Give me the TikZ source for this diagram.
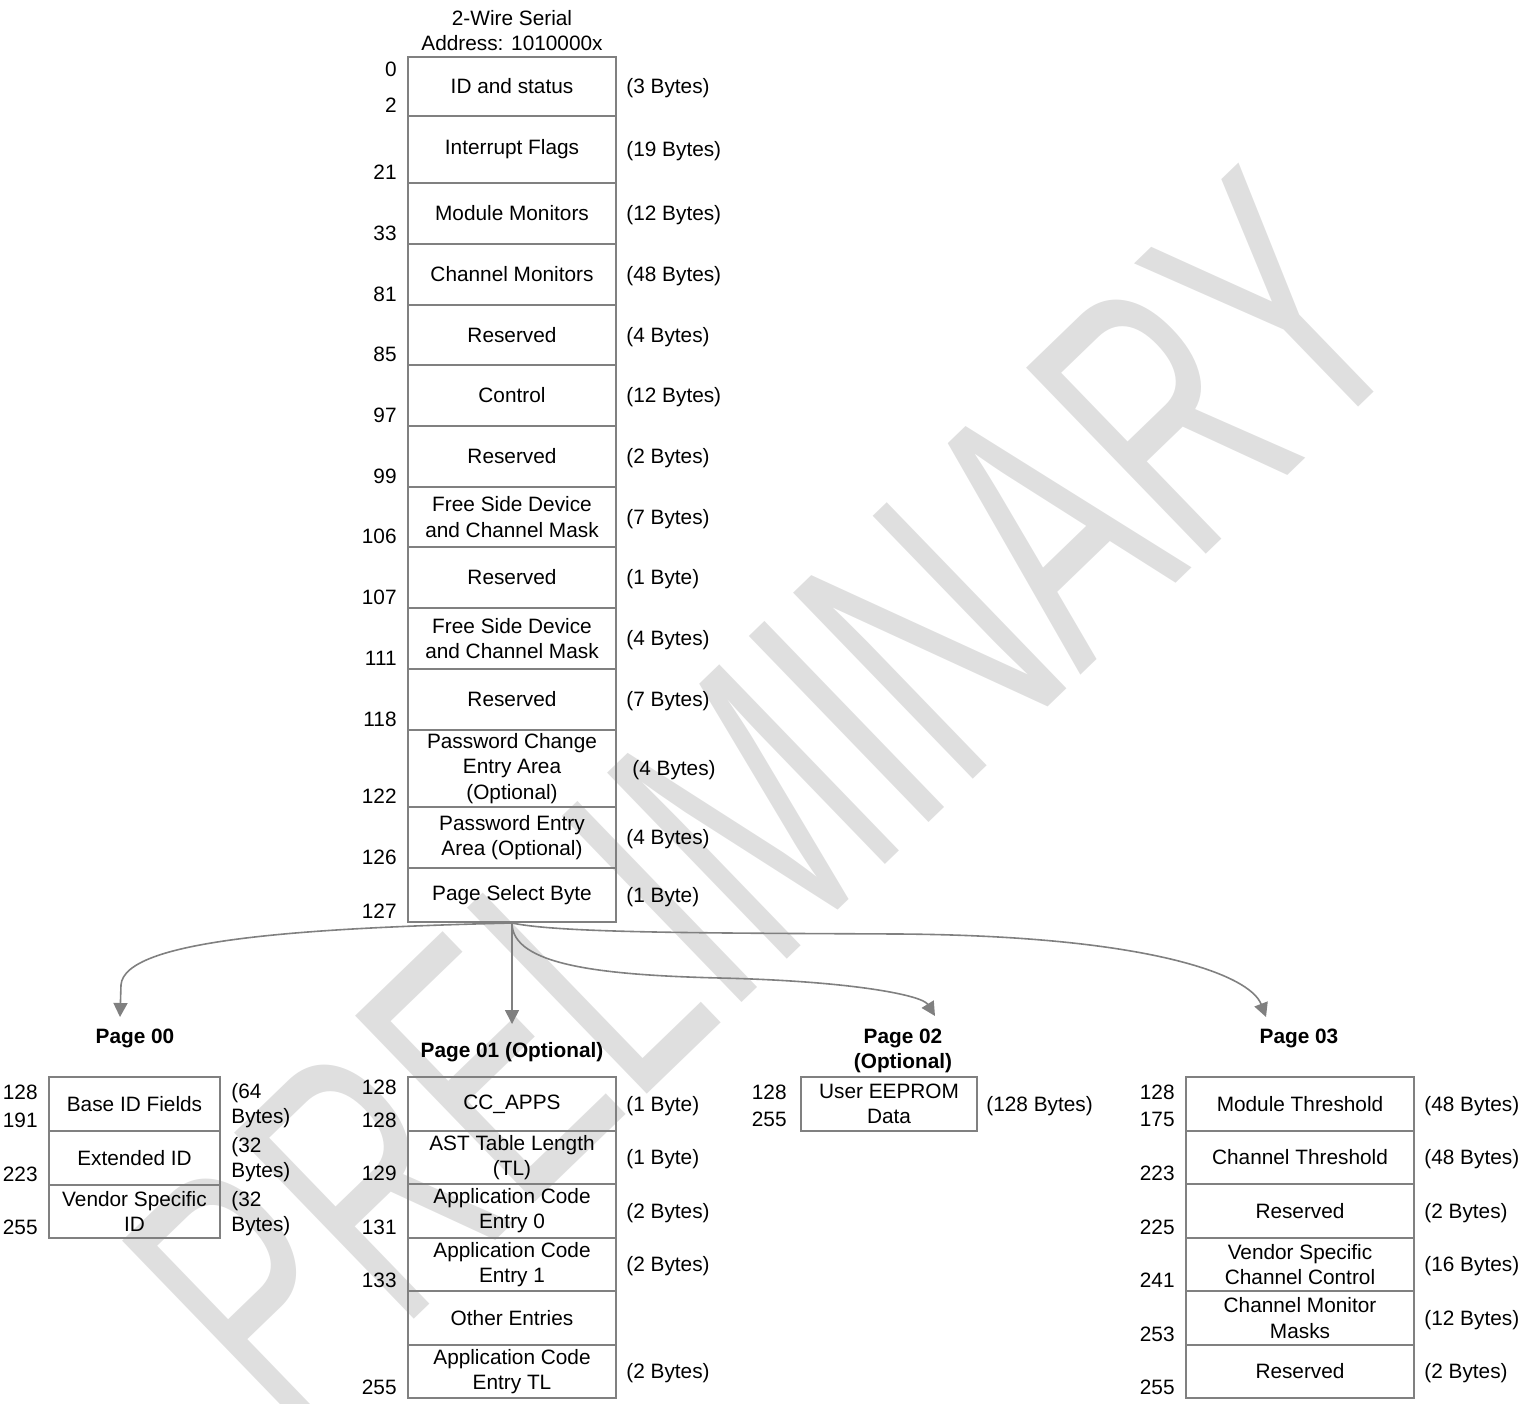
\documentclass[tikz,border=0pt]{standalone}
\usepackage{fontspec}
\setmainfont{Liberation Sans}
\usetikzlibrary{arrows.meta}

\definecolor{framegray}{RGB}{128,128,128}
\definecolor{markgray}{RGB}{223,223,223}

\tikzset{
  cell/.style={draw=framegray, line width=1pt, inner sep=0pt, align=center},
  addr/.style={anchor=base east, inner sep=0pt},
  bytes/.style={anchor=west, inner sep=0pt, align=left, yshift=-1pt},
  pagetitle/.style={inner sep=0pt, align=center, font=\bfseries},
  pagelink/.style={draw=framegray, line width=0.8pt, -{Triangle[length=7pt,width=7pt]}},
}

\begin{document}
\fontsize{10.4}{12.6}\selectfont
\begin{tikzpicture}[x=0.5pt, y=-0.5pt]
        \useasboundingbox (0,0) rectangle (1535,1403);

        % watermark
        \node[rotate=44, xscale=0.62, text=markgray, inner sep=0pt,
              font=\fontsize{188}{188}\selectfont] (wm) at (766,800) {PRELIMINARY};

        \node[inner sep=0pt, align=center] (serial) at (512,30.5) {2-Wire Serial\\Address: 1010000x};

        % lower memory
        \begin{scope}[every node/.style={cell, minimum width=104pt}]
          \node[minimum height=29.5pt] (m1)  at (512,86.5)  {ID and status};
          \node[minimum height=33.5pt] (m2)  at (512,149.5) {Interrupt Flags};
          \node[minimum height=30.5pt] (m3)  at (512,213.5) {Module Monitors};
          \node[minimum height=30.5pt] (m4)  at (512,274.5) {Channel Monitors};
          \node[minimum height=30pt]   (m5)  at (512,335)   {Reserved};
          \node[minimum height=30.5pt] (m6)  at (512,395.5) {Control};
          \node[minimum height=30.5pt] (m7)  at (512,456.5) {Reserved};
          \node[minimum height=30pt]   (m8)  at (512,517)   {Free Side Device\\and Channel Mask};
          \node[minimum height=30.5pt] (m9)  at (512,577.5) {Reserved};
          \node[minimum height=30.5pt] (m10) at (512,638.5) {Free Side Device\\and Channel Mask};
          \node[minimum height=30.5pt] (m11) at (512,699.5) {Reserved};
          \node[minimum height=38.5pt] (m12) at (512,768.5) {Password Change\\Entry Area\\(Optional)};
          \node[minimum height=30.5pt] (m13) at (512,837.5) {Password Entry\\Area (Optional)};
          \node[minimum height=27pt]   (m14) at (512,895)   {Page Select Byte};
        \end{scope}

        \begin{scope}[every node/.style={addr}]
          \node (mn0)   at ([xshift=-5pt,yshift=-10pt]m1.north west) {0};
          \node (mn2)   at ([xshift=-5pt,yshift=2.5pt]m1.south west) {2};
          \node (mn21)  at ([xshift=-5pt,yshift=2.5pt]m2.south west) {21};
          \node (mn33)  at ([xshift=-5pt,yshift=2.5pt]m3.south west) {33};
          \node (mn81)  at ([xshift=-5pt,yshift=2.5pt]m4.south west) {81};
          \node (mn85)  at ([xshift=-5pt,yshift=2.5pt]m5.south west) {85};
          \node (mn97)  at ([xshift=-5pt,yshift=2.5pt]m6.south west) {97};
          \node (mn99)  at ([xshift=-5pt,yshift=2.5pt]m7.south west) {99};
          \node (mn106) at ([xshift=-5pt,yshift=2.5pt]m8.south west) {106};
          \node (mn107) at ([xshift=-5pt,yshift=2.5pt]m9.south west) {107};
          \node (mn111) at ([xshift=-5pt,yshift=2.5pt]m10.south west) {111};
          \node (mn118) at ([xshift=-5pt,yshift=2.5pt]m11.south west) {118};
          \node (mn122) at ([xshift=-5pt,yshift=2.5pt]m12.south west) {122};
          \node (mn126) at ([xshift=-5pt,yshift=2.5pt]m13.south west) {126};
          \node (mn127) at ([xshift=-5pt,yshift=2.5pt]m14.south west) {127};
        \end{scope}

        \begin{scope}[every node/.style={bytes}]
          \node (ms1)  at ([xshift=4.5pt]m1.east)  {(3 Bytes)};
          \node (ms2)  at ([xshift=4.5pt]m2.east)  {(19 Bytes)};
          \node (ms3)  at ([xshift=4.5pt]m3.east)  {(12 Bytes)};
          \node (ms4)  at ([xshift=4.5pt]m4.east)  {(48 Bytes)};
          \node (ms5)  at ([xshift=4.5pt]m5.east)  {(4 Bytes)};
          \node (ms6)  at ([xshift=4.5pt]m6.east)  {(12 Bytes)};
          \node (ms7)  at ([xshift=4.5pt]m7.east)  {(2 Bytes)};
          \node (ms8)  at ([xshift=4.5pt]m8.east)  {(7 Bytes)};
          \node (ms9)  at ([xshift=4.5pt]m9.east)  {(1 Byte)};
          \node (ms10) at ([xshift=4.5pt]m10.east) {(4 Bytes)};
          \node (ms11) at ([xshift=4.5pt]m11.east) {(7 Bytes)};
          \node (ms12) at ([xshift=7.5pt]m12.east) {(4 Bytes)};
          \node (ms13) at ([xshift=4.5pt]m13.east) {(4 Bytes)};
          \node (ms14) at ([xshift=4.5pt]m14.east) {(1 Byte)};
        \end{scope}

        % page titles
        \node[pagetitle] (p00) at (135,1038)  {Page 00};
        \node[pagetitle] (p01) at (512,1052)  {Page 01 (Optional)};
        \node[pagetitle] (p02) at (903,1051)  {Page 02\\(Optional)};
        \node[pagetitle] (p03) at (1299,1038) {Page 03};

        % page 00
        \begin{scope}[every node/.style={cell, minimum width=85.5pt}]
          \node[minimum height=27pt]   (a1) at (134.5,1104)  {Base ID Fields};
          \node[minimum height=27pt]   (a2) at (134.5,1158)  {Extended ID};
          \node[minimum height=26.5pt] (a3) at (134.5,1211.5) {Vendor Specific\\ID};
        \end{scope}
        \node[addr] (an128) at ([xshift=-5pt,yshift=-11.5pt]a1.north west) {128};
        \node[addr] (an191) at ([xshift=-5pt,yshift=2.5pt]a1.south west) {191};
        \node[addr] (an223) at ([xshift=-5pt,yshift=2.5pt]a2.south west) {223};
        \node[addr] (an255) at ([xshift=-5pt,yshift=2.5pt]a3.south west) {255};
        \node[bytes] (as1) at ([xshift=5pt]a1.east) {(64\\Bytes)};
        \node[bytes] (as2) at ([xshift=5pt]a2.east) {(32\\Bytes)};
        \node[bytes] (as3) at ([xshift=5pt]a3.east) {(32\\Bytes)};

        % page 01
        \begin{scope}[every node/.style={cell, minimum width=104pt}]
          \node[minimum height=27pt]   (b1) at (512,1104)   {CC\_APPS};
          \node[minimum height=26.5pt] (b2) at (512,1157.5) {AST Table Length\\(TL)};
          \node[minimum height=27pt]   (b3) at (512,1211)   {Application Code\\Entry 0};
          \node[minimum height=26.5pt] (b4) at (512,1264.5) {Application Code\\Entry 1};
          \node[minimum height=27pt]   (b5) at (512,1318)   {Other Entries};
          \node[minimum height=26.5pt] (b6) at (512,1371.5) {Application Code\\Entry TL};
        \end{scope}
        \node[addr] (bn128a) at ([xshift=-5pt,yshift=-9pt]b1.north west) {128};
        \node[addr] (bn128b) at ([xshift=-5pt,yshift=2.5pt]b1.south west) {128};
        \node[addr] (bn129)  at ([xshift=-5pt,yshift=2.5pt]b2.south west) {129};
        \node[addr] (bn131)  at ([xshift=-5pt,yshift=2.5pt]b3.south west) {131};
        \node[addr] (bn133)  at ([xshift=-5pt,yshift=2.5pt]b4.south west) {133};
        \node[addr] (bn255)  at ([xshift=-5pt,yshift=2.5pt]b6.south west) {255};
        \node[bytes] (bs1) at ([xshift=4.5pt]b1.east) {(1 Byte)};
        \node[bytes] (bs2) at ([xshift=4.5pt]b2.east) {(1 Byte)};
        \node[bytes] (bs3) at ([xshift=4.5pt]b3.east) {(2 Bytes)};
        \node[bytes] (bs4) at ([xshift=4.5pt]b4.east) {(2 Bytes)};
        \node[bytes] (bs6) at ([xshift=4.5pt]b6.east) {(2 Bytes)};

        % page 02
        \node[cell, minimum width=88pt, minimum height=27pt] (c1) at (889,1104) {User EEPROM\\Data};
        \node[addr] (cn128) at ([xshift=-6.5pt,yshift=-11.5pt]c1.north west) {128};
        \node[addr] (cn255) at ([xshift=-6.5pt,yshift=3pt]c1.south west) {255};
        \node[bytes] (cs1) at ([xshift=4pt]c1.east) {(128 Bytes)};

        % page 03
        \begin{scope}[every node/.style={cell, minimum width=114pt}]
          \node[minimum height=27pt]   (d1) at (1300,1104)   {Module Threshold};
          \node[minimum height=26.5pt] (d2) at (1300,1157.5) {Channel Threshold};
          \node[minimum height=27pt]   (d3) at (1300,1211)   {Reserved};
          \node[minimum height=26.5pt] (d4) at (1300,1264.5) {Vendor Specific\\Channel Control};
          \node[minimum height=27pt]   (d5) at (1300,1318)   {Channel Monitor\\Masks};
          \node[minimum height=26.5pt] (d6) at (1300,1371.5) {Reserved};
        \end{scope}
        \node[addr] (dn128) at ([xshift=-5pt,yshift=-11.5pt]d1.north west) {128};
        \node[addr] (dn175) at ([xshift=-5pt,yshift=3pt]d1.south west) {175};
        \node[addr] (dn223) at ([xshift=-5pt,yshift=2.5pt]d2.south west) {223};
        \node[addr] (dn225) at ([xshift=-5pt,yshift=2.5pt]d3.south west) {225};
        \node[addr] (dn241) at ([xshift=-5pt,yshift=2.5pt]d4.south west) {241};
        \node[addr] (dn253) at ([xshift=-5pt,yshift=2.5pt]d5.south west) {253};
        \node[addr] (dn255) at ([xshift=-5pt,yshift=2.5pt]d6.south west) {255};
        \node[bytes] (ds1) at ([xshift=4.5pt]d1.east) {(48 Bytes)};
        \node[bytes] (ds2) at ([xshift=4.5pt]d2.east) {(48 Bytes)};
        \node[bytes] (ds3) at ([xshift=4.5pt]d3.east) {(2 Bytes)};
        \node[bytes] (ds4) at ([xshift=4.5pt]d4.east) {(16 Bytes)};
        \node[bytes] (ds5) at ([xshift=4.5pt]d5.east) {(12 Bytes)};
        \node[bytes] (ds6) at ([xshift=4.5pt]d6.east) {(2 Bytes)};

        % page select arrows
        \coordinate (t00) at (120,1017);
        \coordinate (t01) at (512,1024);
        \coordinate (t02) at (935,1016);
        \coordinate (t03) at (1266,1017);
        \draw[pagelink] (m14.south) .. controls (300,928) and (124,940) .. (121,985) -- (t00);
        \draw[pagelink] (m14.south) -- (t01);
        \draw[pagelink] (m14.south) .. controls (512,965) and (600,975) .. (720,978)
                                    .. controls (850,981) and (922,995) .. (t02);
        \draw[pagelink] (m14.south) .. controls (560,933) and (700,933) .. (900,934)
                                    .. controls (1150,936) and (1250,975) .. (t03);

      \end{tikzpicture}
\end{document}
